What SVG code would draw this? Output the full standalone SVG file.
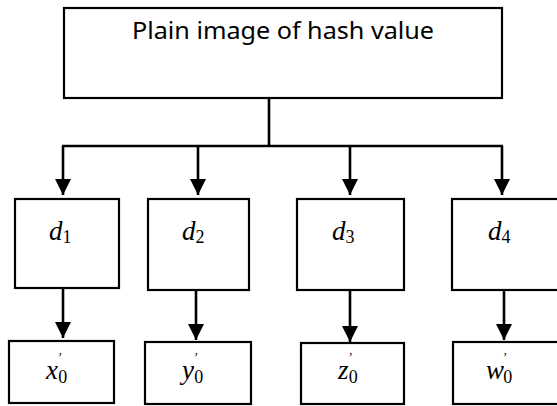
<svg xmlns="http://www.w3.org/2000/svg" width="557" height="406" viewBox="0 0 557 406">
<defs>
<marker id="ah" viewBox="0 0 15 15" refX="15" refY="7.5" markerWidth="16" markerHeight="16" orient="auto" markerUnits="userSpaceOnUse">
<path d="M0,0 L15,7.5 L0,15 Z" fill="#000"/>
</marker>
<style>
.box{fill:#fff;stroke:#000;stroke-width:2.2}
.ln{fill:none;stroke:#000;stroke-width:2.6}
.title{font-family:"Noto Sans","Open Sans",sans-serif;font-size:23px;fill:#000}
.m{font-family:"Liberation Serif","DejaVu Serif",serif;font-size:27px;font-style:italic;fill:#000}
.s{font-style:normal;font-size:18px}
.p{font-style:normal;font-size:13px}
</style>
</defs>
<rect width="557" height="406" fill="#fff"/>
<g id="top">
<rect class="box" x="64" y="8" width="438" height="90"/>
<text class="title" x="283" y="39" text-anchor="middle" textLength="302" lengthAdjust="spacingAndGlyphs">Plain image of hash value</text>
</g>
<g id="d1"><rect class="box" x="15" y="199" width="104" height="89"/><text class="m" x="49" y="240">d<tspan class="s" dy="3">1</tspan></text></g>
<g id="d2"><rect class="box" x="148" y="199" width="101" height="91"/><text class="m" x="182" y="240">d<tspan class="s" dy="3">2</tspan></text></g>
<g id="d3"><rect class="box" x="297" y="199" width="107" height="91"/><text class="m" x="332" y="240">d<tspan class="s" dy="3">3</tspan></text></g>
<g id="d4"><rect class="box" x="452" y="199" width="110" height="91"/><text class="m" x="488" y="240">d<tspan class="s" dy="3">4</tspan></text></g>
<g id="x0"><rect class="box" x="9" y="341" width="105" height="62"/><text class="m" x="46" y="379">x<tspan class="p" dx="0" dy="-18">’</tspan><tspan class="s" dx="-4" dy="22">0</tspan></text></g>
<g id="y0"><rect class="box" x="145" y="342" width="106" height="62"/><text class="m" x="182" y="379">y<tspan class="p" dx="0" dy="-18">’</tspan><tspan class="s" dx="-4" dy="22">0</tspan></text></g>
<g id="z0"><rect class="box" x="301" y="343" width="103" height="61"/><text class="m" x="338" y="379">z<tspan class="p" dx="0" dy="-18">’</tspan><tspan class="s" dx="-4" dy="22">0</tspan></text></g>
<g id="w0"><rect class="box" x="453" y="342" width="110" height="62"/><text class="m" x="486" y="379">w<tspan class="p" dx="-1" dy="-18">’</tspan><tspan class="s" dx="-4" dy="22">0</tspan></text></g>
<g id="connectors">
<path class="ln" d="M269,98 V146 M62,146 H503"/>
<path class="ln" d="M63,146 V195" marker-end="url(#ah)"/>
<path class="ln" d="M198,146 V195" marker-end="url(#ah)"/>
<path class="ln" d="M350,146 V195" marker-end="url(#ah)"/>
<path class="ln" d="M502,146 V195" marker-end="url(#ah)"/>
<path class="ln" d="M63,288 V338" marker-end="url(#ah)"/>
<path class="ln" d="M196,290 V340" marker-end="url(#ah)"/>
<path class="ln" d="M350,290 V342" marker-end="url(#ah)"/>
<path class="ln" d="M504,290 V340" marker-end="url(#ah)"/>
</g>
</svg>
